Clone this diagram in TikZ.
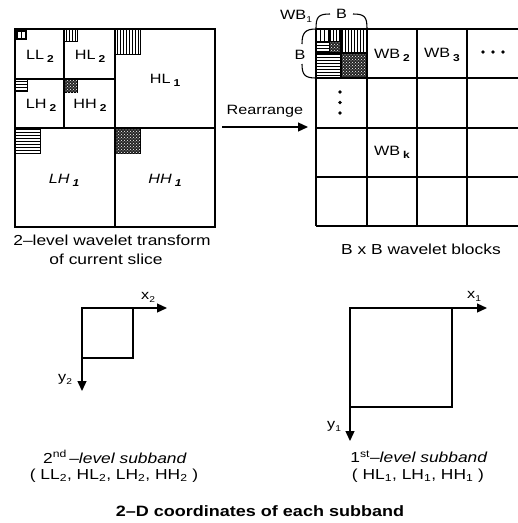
\documentclass[tikz,border=0pt]{standalone}
\usepackage{fontspec}
\setmainfont{Liberation Sans}[FakeStretch=1.2]
\usetikzlibrary{patterns,arrows.meta}
\newcommand\sbl[1]{\hspace{0.22em}\raisebox{-0.45ex}{\fontsize{10}{11}\selectfont\bfseries #1}}
\newcommand\sbs[1]{\raisebox{-0.45ex}{\fontsize{8.5}{9}\selectfont #1}}
\begin{document}
\begin{tikzpicture}[x=1pt,y=-1pt,
  frame/.style={line width=1.3pt},
  thinl/.style={line width=0.8pt},
  lbl/.style={font=\fontsize{13.5}{15}\selectfont, inner sep=0},
  captxt/.style={font=\fontsize{14.5}{16}\selectfont, inner sep=0},
  arr/.style={line width=1.3pt, -{Triangle[length=10pt,width=9pt]}},
  brc/.style={line width=1.1pt},
  vpat/.style={pattern=vertical lines},
  hpat/.style={pattern=horizontal lines},
  dpat/.style={fill=black!85, postaction={pattern=crosshatch dots, pattern color=white}},
  dotm/.style={circle, fill=black, inner sep=0, minimum size=3.8pt}]
\useasboundingbox (0,0) rectangle (518,523);

% ---------- left: 2-level wavelet transform ----------
\draw[thinl, vpat] (64,29) rectangle (77,41);
\draw[thinl, hpat] (15,79) rectangle (27,91);
\draw[thinl, dpat] (64,79) rectangle (77,92);
\draw[thinl, vpat] (115,29) rectangle (140,54);
\draw[thinl, hpat] (15,128) rectangle (40,153);
\draw[thinl, dpat] (115,128) rectangle (140,153);
\fill (15,29) rectangle (27,40);
\fill[white] (17.5,31.5) rectangle (20.5,34.5);
\fill[white] (21.5,31.5) rectangle (24.5,34.5);
\fill[white] (17.5,35.2) rectangle (20.5,37.8);
\fill[white] (21.5,35.2) rectangle (24.5,37.8);
\draw[frame] (15,29) rectangle (215,227);
\draw[frame] (115,29) -- (115,227);
\draw[frame] (15,128) -- (215,128);
\draw[frame] (64,29) -- (64,128);
\draw[frame] (15,79) -- (115,79);

\node[lbl] (ll2) at (40,56) {LL\sbl{2}};
\node[lbl] (hl2) at (90,56) {HL\sbl{2}};
\node[lbl] (lh2) at (41,105) {LH\sbl{2}};
\node[lbl] (hh2) at (90,105) {HH\sbl{2}};
\node[lbl] (hl1) at (165,80) {HL\sbl{1}};
\node[lbl] (lh1) at (64,180) {\itshape LH\sbl{1}};
\node[lbl] (hh1) at (165,180) {\itshape HH\sbl{1}};

% ---------- rearrange arrow ----------
\node[lbl] (rea) at (265,111) {Rearrange};
\coordinate (ra1) at (222,127);
\coordinate (ra2) at (308,127);
\draw[arr] (ra1) -- (ra2);

% ---------- right: B x B wavelet blocks ----------
\fill[vpat] (341,29) rectangle (367,53);
\fill[hpat] (316,53) rectangle (341,78);
\fill[dpat] (341,53) rectangle (367,78);
\fill[vpat] (329,29) rectangle (341,41);
\fill[hpat] (316,41) rectangle (329,53);
\fill[dpat] (329,41) rectangle (341,53);
\draw[thinl] (316,29) grid[step=4] (329,41);
\draw[thinl] (316,29) rectangle (329,41);
\draw[thinl] (329,29) rectangle (341,53);
\draw[thinl] (316,41) rectangle (341,53);
\draw[frame] (341,29) -- (341,78);
\draw[frame] (316,53) -- (367,53);
\foreach \x in {316,367,417,467} \draw[frame] (\x,29) -- (\x,226);
\foreach \y in {29,78,128,177,226} \draw[frame] (316,\y) -- (518,\y);

\node[lbl] (wb2) at (392,55) {WB\sbl{2}};
\node[lbl] (wb3) at (442,55) {WB\sbl{3}};
\node[lbl] (wbk) at (392,152) {WB\sbl{k}};
\node[dotm] (h1) at (483,52) {};
\node[dotm] (h2) at (493,52) {};
\node[dotm] (h3) at (503,52) {};
\node[dotm] (v1) at (340,92) {};
\node[dotm] (v2) at (340,102.5) {};
\node[dotm] (v3) at (340,113) {};

% braces
\draw[brc] (316,29) .. controls (316,17) and (318,14) .. (330,14);
\draw[brc] (353,14) .. controls (365,14) and (367,17) .. (367,29);
\node[lbl] (bt) at (341.5,14) {B};
\draw[brc] (316,29) .. controls (305,29) and (302,33) .. (302,44);
\draw[brc] (302,64) .. controls (302,75) and (305,78) .. (316,78);
\node[lbl] (bl) at (300,55) {B};
\node[lbl, anchor=base west] (wb1) at (280,19) {WB\sbs{1}};

% captions
\node[captxt] (c1) at (112,240) {2--level wavelet transform};
\node[captxt] (c2) at (106,259) {of current slice};
\node[captxt] (c3) at (421,249) {B x B wavelet blocks};

% ---------- bottom-left axes ----------
\coordinate (o2) at (82,308);
\coordinate (x2e) at (167,308);
\coordinate (y2e) at (82,391);
\draw[frame] (o2) rectangle (133,358);
\draw[arr] (o2) -- (x2e);
\draw[arr] (o2) -- (y2e);
\node[lbl, anchor=base west] (x2) at (141,299) {x\sbs{2}};
\node[lbl, anchor=base west] (y2) at (58,381) {y\sbs{2}};

% ---------- bottom-right axes ----------
\coordinate (o1) at (350,308);
\coordinate (x1e) at (487,308);
\coordinate (y1e) at (350,441);
\draw[frame] (o1) rectangle (452,407);
\draw[arr] (o1) -- (x1e);
\draw[arr] (o1) -- (y1e);
\node[lbl, anchor=base west] (x1) at (467,298) {x\sbs{1}};
\node[lbl, anchor=base west] (y1) at (327,428) {y\sbs{1}};

% bottom texts
\node[captxt] (t1) at (115,457) {2\textsuperscript{nd}\,\textit{--level subband}};
\node[captxt] (t2) at (114,476) {( LL\textsubscript{2}, HL\textsubscript{2}, LH\textsubscript{2}, HH\textsubscript{2} )};
\node[captxt] (t3) at (419,457) {1\textsuperscript{st}--\textit{level subband}};
\node[captxt] (t4) at (418,476) {( HL\textsubscript{1}, LH\textsubscript{1}, HH\textsubscript{1} )};
\node[captxt, font=\fontsize{15}{17}\selectfont\bfseries] (t5) at (260,511) {2--D coordinates of each subband};
\end{tikzpicture}
\end{document}
